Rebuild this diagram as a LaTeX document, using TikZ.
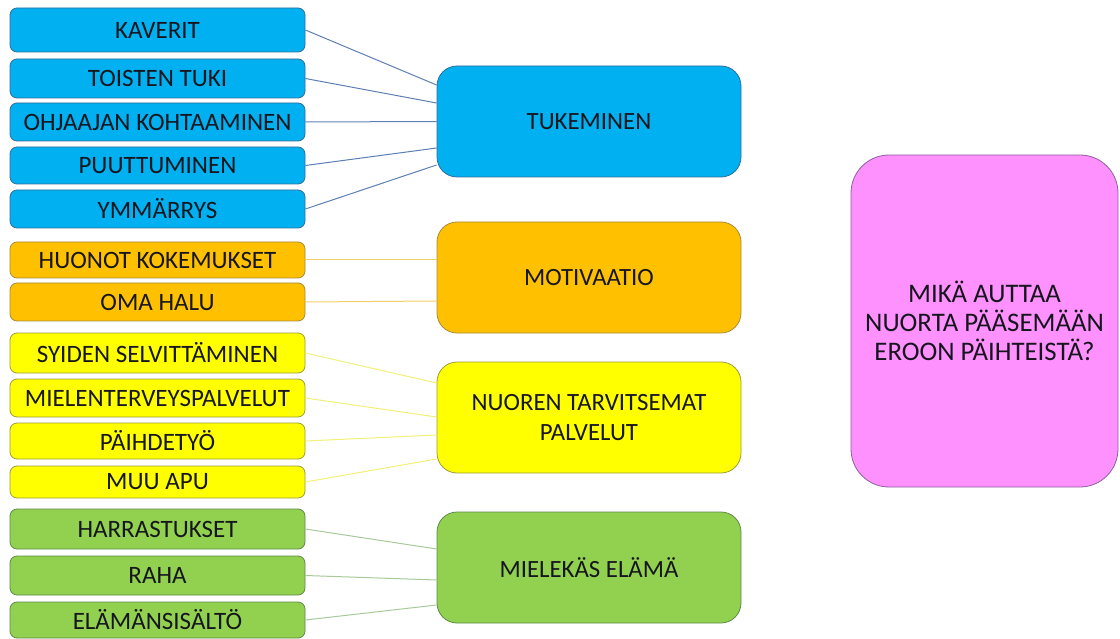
\documentclass[tikz,border=0pt]{standalone}
\usepackage{fontspec}
\setmainfont{Carlito}
\usetikzlibrary{calc}
\definecolor{cblue}{HTML}{00B0F0}
\definecolor{corange}{HTML}{FFC000}
\definecolor{cyellow}{HTML}{FFFF00}
\definecolor{cgreen}{HTML}{92D050}
\definecolor{cpink}{HTML}{FF91FF}
\definecolor{bblue}{HTML}{2F6E9E}
\definecolor{borange}{HTML}{A88A3A}
\definecolor{byellow}{HTML}{9C9C3C}
\definecolor{bgreen}{HTML}{5F8A4A}
\definecolor{bpink}{HTML}{8E5E9E}
\definecolor{lblue}{HTML}{5E7FB4}
\definecolor{lorange}{HTML}{F2CE6A}
\definecolor{lyellow}{HTML}{F2F07A}
\definecolor{lgreen}{HTML}{A8C99A}
\definecolor{txt}{HTML}{16161E}
\tikzset{
  leftbox/.style={draw, line width=0.8pt, rounded corners=7pt, minimum width=295pt, inner sep=0pt, text=txt, font=\fontsize{25}{28}\selectfont},
  midbox/.style={draw, line width=0.8pt, rounded corners=20pt, minimum width=304pt, minimum height=111pt, inner sep=0pt, text=txt, align=center, font=\fontsize{24.8}{30}\selectfont},
  conn/.style={line width=1pt},
}
\begin{document}
\begin{tikzpicture}[x=1pt,y=1pt]
\useasboundingbox (0,0) rectangle (1120,-639);
% left boxes
\node[leftbox, fill=cblue, draw=bblue, minimum height=44pt] (kav) at (157.5,-30) {KAVERIT};
\node[leftbox, fill=cblue, draw=bblue, minimum height=39pt] (toi) at (157.5,-78.5) {TOISTEN TUKI};
\node[leftbox, fill=cblue, draw=bblue, minimum height=38pt] (ohj) at (157.5,-122) {OHJAAJAN KOHTAAMINEN};
\node[leftbox, fill=cblue, draw=bblue, minimum height=37pt] (puu) at (157.5,-165.5) {PUUTTUMINEN};
\node[leftbox, fill=cblue, draw=bblue, minimum height=38pt] (ymm) at (157.5,-209) {YMMÄRRYS};
\node[leftbox, fill=corange, draw=borange, minimum height=36pt] (huo) at (157.5,-260) {HUONOT KOKEMUKSET};
\node[leftbox, fill=corange, draw=borange, minimum height=38pt] (oma) at (157.5,-302) {OMA HALU};
\node[leftbox, fill=cyellow, draw=byellow, minimum height=40pt] (syi) at (157.5,-353) {SYIDEN SELVITTÄMINEN};
\node[leftbox, fill=cyellow, draw=byellow, minimum height=38pt] (mie) at (157.5,-398) {MIELENTERVEYSPALVELUT};
\node[leftbox, fill=cyellow, draw=byellow, minimum height=36pt] (pai) at (157.5,-441) {PÄIHDETYÖ};
\node[leftbox, fill=cyellow, draw=byellow, minimum height=32pt] (muu) at (157.5,-482) {MUU APU};
\node[leftbox, fill=cgreen, draw=bgreen, minimum height=40pt] (har) at (157.5,-529) {HARRASTUKSET};
\node[leftbox, fill=cgreen, draw=bgreen, minimum height=39pt] (rah) at (157.5,-575.5) {RAHA};
\node[leftbox, fill=cgreen, draw=bgreen, minimum height=36pt] (ela) at (157.5,-620) {ELÄMÄNSISÄLTÖ};
% middle boxes
\node[midbox, fill=cblue, draw=bblue] (tuk) at (589,-121.5) {TUKEMINEN};
\node[midbox, fill=corange, draw=borange] (mot) at (589,-277.5) {MOTIVAATIO};
\node[midbox, fill=cyellow, draw=byellow] (nuo) at (589,-417.5) {NUOREN TARVITSEMAT\\PALVELUT};
\node[midbox, fill=cgreen, draw=bgreen] (mel) at (589,-567.5) {MIELEKÄS ELÄMÄ};
% right box
\node[draw=bpink, fill=cpink, line width=0.8pt, rounded corners=38pt, minimum width=267pt, minimum height=332pt, inner sep=0pt, text=txt, align=center, font=\fontsize{26.8}{29}\selectfont] (q) at (984.5,-321) {MIKÄ AUTTAA\\NUORTA PÄÄSEMÄÄN\\EROON PÄIHTEISTÄ?};
% connectors
\draw[conn, lblue] (kav.east) -- ([yshift=36.5pt]tuk.west);
\draw[conn, lblue] (toi.east) -- ([yshift=18.5pt]tuk.west);
\draw[conn, lblue] (ohj.east) -- ([yshift=0pt]tuk.west);
\draw[conn, lblue] (puu.east) -- ([yshift=-26.5pt]tuk.west);
\draw[conn, lblue] (ymm.east) -- ([yshift=-43.5pt]tuk.west);
\draw[conn, lorange] (huo.east) -- ([yshift=17.5pt]mot.west);
\draw[conn, lorange] (oma.east) -- ([yshift=-23.5pt]mot.west);
\draw[conn, lyellow] (syi.east) -- ([yshift=34.5pt]nuo.west);
\draw[conn, lyellow] (mie.east) -- ([yshift=0.5pt]nuo.west);
\draw[conn, lyellow] (pai.east) -- ([yshift=-17.5pt]nuo.west);
\draw[conn, lyellow] (muu.east) -- ([yshift=-41.5pt]nuo.west);
\draw[conn, lgreen] (har.east) -- ([yshift=18.5pt]mel.west);
\draw[conn, lgreen] (rah.east) -- ([yshift=-12.5pt]mel.west);
\draw[conn, lgreen] (ela.east) -- ([yshift=-37.5pt]mel.west);
\end{tikzpicture}
\end{document}
